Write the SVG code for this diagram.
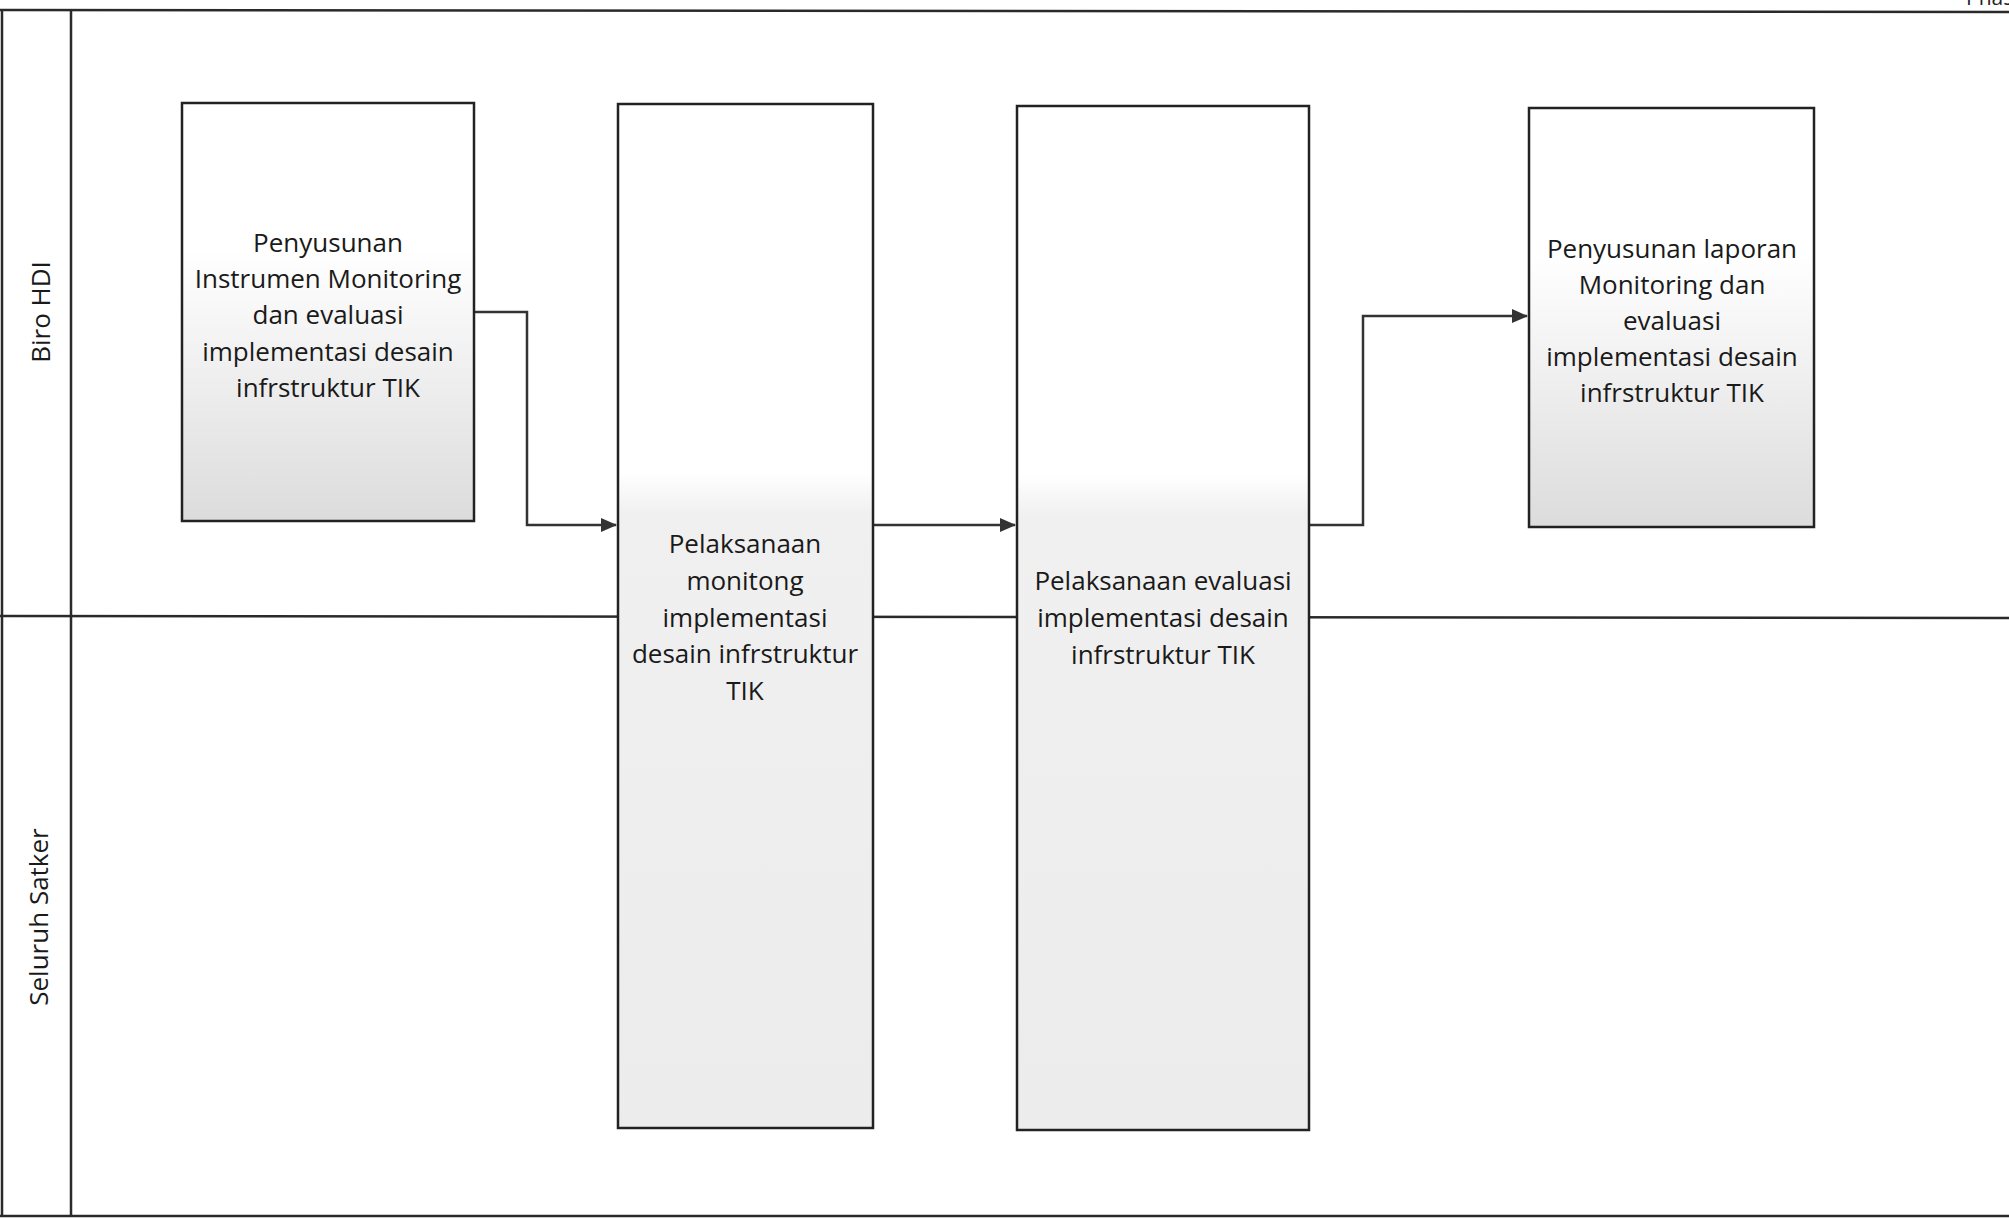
<svg xmlns="http://www.w3.org/2000/svg" width="2009" height="1220" viewBox="0 0 2009 1220">
<style>
.frame{fill:none;stroke:#2a2a2a;stroke-width:2.5}
.box{stroke:#222;stroke-width:2.5}
.conn{fill:none;stroke:#333;stroke-width:2.5}
.t{font-family:"Open Sans","Liberation Sans",sans-serif;font-size:26px;fill:#1a1a1a;text-anchor:middle}
.lane{font-family:"Open Sans","Liberation Sans",sans-serif;font-size:26px;fill:#1a1a1a;text-anchor:middle}
</style>
<defs>
<linearGradient id="g1" x1="0" y1="0" x2="0" y2="1">
<stop offset="0" stop-color="#ffffff"/>
<stop offset="0.35" stop-color="#ffffff"/>
<stop offset="1" stop-color="#dcdcdc"/>
</linearGradient>
<linearGradient id="g2" x1="0" y1="0" x2="0" y2="1">
<stop offset="0" stop-color="#ffffff"/>
<stop offset="0.36" stop-color="#ffffff"/>
<stop offset="0.4" stop-color="#f0f0f0"/>
<stop offset="1" stop-color="#ececec"/>
</linearGradient>
<marker id="arr" markerUnits="userSpaceOnUse" markerWidth="16" markerHeight="14" refX="15" refY="7" orient="auto">
<path d="M0,0 L16,7 L0,14 Z" fill="#333"/>
</marker>
</defs>
<rect width="2009" height="1220" fill="#fff"/>
<text x="1966" y="5" style="font-family:'Open Sans','Liberation Sans',sans-serif;font-size:21px;fill:#222">Phase</text>
<g id="pool">
<line class="frame" x1="0" y1="10" x2="2009" y2="12"/>
<line class="frame" x1="2" y1="10" x2="2" y2="1216"/>
<line class="frame" x1="0" y1="1216" x2="2009" y2="1216"/>
<line class="frame" x1="71" y1="10" x2="71" y2="1216"/>
<line class="frame" x1="0" y1="616" x2="2009" y2="618"/>
</g>
<g id="lane-biro-hdi"><text class="lane" transform="translate(50,312) rotate(-90)">Biro HDI</text></g>
<g id="lane-seluruh-satker"><text class="lane" transform="translate(48,917) rotate(-90)">Seluruh Satker</text></g>
<g id="connectors">
<polyline class="conn" points="474,312 527,312 527,525 616,525" marker-end="url(#arr)"/>
<polyline class="conn" points="873,525 1015,525" marker-end="url(#arr)"/>
<polyline class="conn" points="1309,525 1363,525 1363,316 1527,316" marker-end="url(#arr)"/>
</g>
<g id="node1">
<rect class="box" x="182" y="103" width="292" height="418" fill="url(#g1)"/>
<text class="t" x="328" y="252">Penyusunan</text>
<text class="t" x="328" y="288">Instrumen Monitoring</text>
<text class="t" x="328" y="324">dan evaluasi</text>
<text class="t" x="328" y="361">implementasi desain</text>
<text class="t" x="328" y="397">infrstruktur TIK</text>
</g>
<g id="node2">
<rect class="box" x="618" y="104" width="255" height="1024" fill="url(#g2)"/>
<text class="t" x="745" y="553">Pelaksanaan</text>
<text class="t" x="745" y="590">monitong</text>
<text class="t" x="745" y="627">implementasi</text>
<text class="t" x="745" y="663">desain infrstruktur</text>
<text class="t" x="745" y="700">TIK</text>
</g>
<g id="node3">
<rect class="box" x="1017" y="106" width="292" height="1024" fill="url(#g2)"/>
<text class="t" x="1163" y="590">Pelaksanaan evaluasi</text>
<text class="t" x="1163" y="627">implementasi desain</text>
<text class="t" x="1163" y="664">infrstruktur TIK</text>
</g>
<g id="node4">
<rect class="box" x="1529" y="108" width="285" height="419" fill="url(#g1)"/>
<text class="t" x="1672" y="258">Penyusunan laporan</text>
<text class="t" x="1672" y="294">Monitoring dan</text>
<text class="t" x="1672" y="330">evaluasi</text>
<text class="t" x="1672" y="366">implementasi desain</text>
<text class="t" x="1672" y="402">infrstruktur TIK</text>
</g>
</svg>
